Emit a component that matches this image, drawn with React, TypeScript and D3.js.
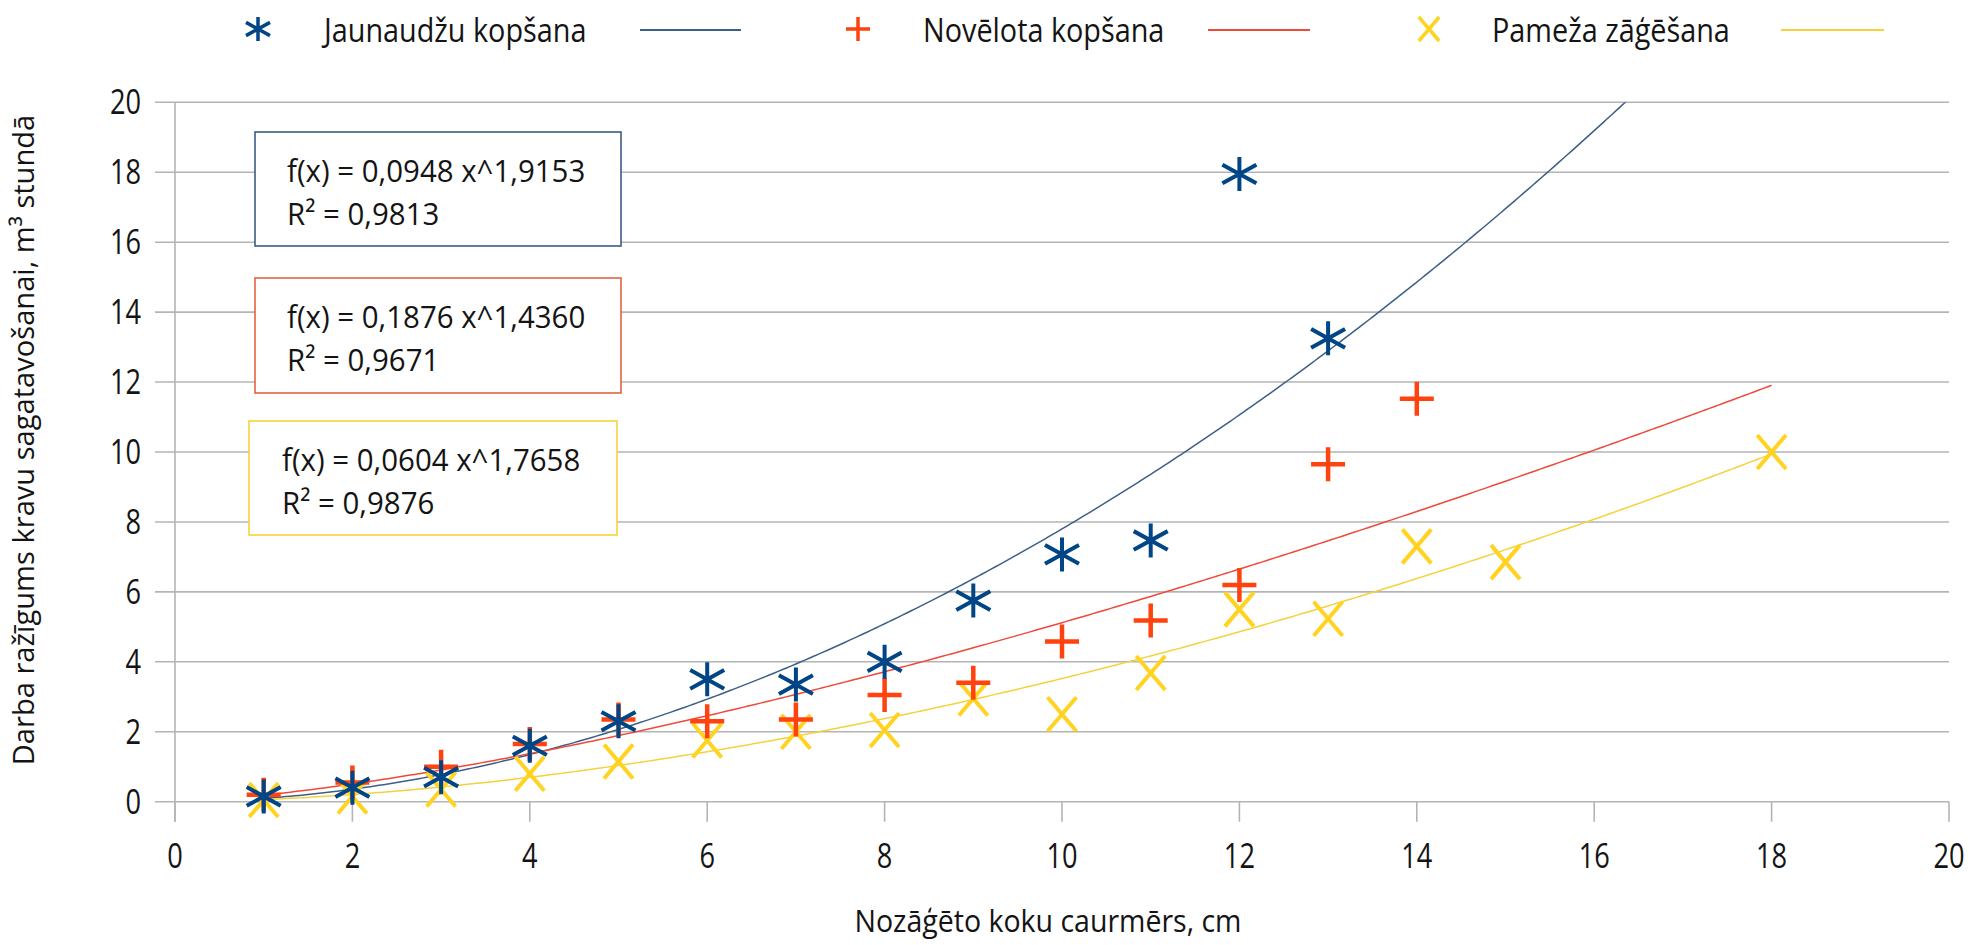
import React from 'react';
import * as d3 from 'd3';

// ---------- data ----------
const seriesNames = ['Jaunaudžu kopšana', 'Novēlota kopšana', 'Pameža zāģēšana'];
const seriesColors = ['#004586', '#ff420e', '#ffd320'];
const trendColors = ['#3d5f86', '#ee4a3a', '#f3d23e'];
const boxColors = ['#3a5c85', '#e2643f', '#f4d43a'];
const markerTypes = ['asterisk', 'plus', 'cross'];

const blueX = [1, 2, 3, 4, 5, 6, 7, 8, 9, 10, 11, 12, 13];
const blueY = [0.15, 0.4, 0.7, 1.6, 2.3, 3.5, 3.35, 4.0, 5.75, 7.07, 7.47, 17.95, 13.25];

const redX = [1, 2, 3, 4, 5, 6, 7, 8, 9, 10, 11, 12, 13, 14];
const redY = [0.2, 0.55, 1.0, 1.65, 2.35, 2.3, 2.35, 3.05, 3.4, 4.58, 5.18, 6.2, 9.65, 11.52];

const yellowX = [1, 2, 3, 4, 5, 6, 7, 8, 9, 10, 11, 12, 13, 14, 15, 18];
const yellowY = [0.05, 0.15, 0.35, 0.8, 1.15, 1.75, 2.0, 2.05, 2.95, 2.5, 3.68, 5.5, 5.23, 7.3, 6.85, 10.0];

const trendA = [0.0948, 0.1876, 0.0604];
const trendB = [1.9153, 1.436, 1.7658];
const equationLabels = ['f(x) = 0,0948 x^1,9153', 'f(x) = 0,1876 x^1,4360', 'f(x) = 0,0604 x^1,7658'];
const r2Labels = ['R² = 0,9813', 'R² = 0,9671', 'R² = 0,9876'];

const xTicks = [0, 2, 4, 6, 8, 10, 12, 14, 16, 18, 20];
const yTicks = [0, 2, 4, 6, 8, 10, 12, 14, 16, 18, 20];
const xTitle = 'Nozāģēto koku caurmērs, cm';
const yTitle = 'Darba ražīgums kravu sagatavošanai, m³ stundā';

// ---------- layout ----------
const W = 1969;
const H = 945;
const FONT = "'Open Sans', 'Noto Sans', sans-serif";
const TEXT = '#141414';
const GRID = '#b4b4b4';

const legendMarkerX = [258, 858, 1429];
const legendTextX = [324, 923, 1492];
const legendLineX = [[640, 741], [1208, 1310], [1781, 1884]];
const boxRects = [
  { x: 255, y: 132, w: 366, h: 114 },
  { x: 255, y: 278, w: 366, h: 115 },
  { x: 249, y: 421, w: 368, h: 114 },
];
const boxTextDX = [32, 32, 33];

function markerPath(type: string, cx: number, cy: number, r: number): string {
  if (type === 'asterisk') {
    const dy = r * 0.55;
    return `M${cx},${cy - r}V${cy + r}M${cx - r},${cy - dy}L${cx + r},${cy + dy}M${cx - r},${cy + dy}L${cx + r},${cy - dy}`;
  }
  if (type === 'plus') {
    return `M${cx - r},${cy}H${cx + r}M${cx},${cy - r}V${cy + r}`;
  }
  const rx = r * 0.85;
  return `M${cx - rx},${cy - r}L${cx + rx},${cy + r}M${cx - rx},${cy + r}L${cx + rx},${cy - r}`;
}

function T(props: {
  x: number; y: number; sx?: number; anchor?: string; size?: number; rotate?: number; children: React.ReactNode;
}) {
  const { x, y, sx = 1, anchor = 'start', size = 30, rotate, children } = props;
  const tr = `translate(${x},${y})${rotate ? ` rotate(${rotate})` : ''} scale(${sx},1)`;
  return (
    <text transform={tr} textAnchor={anchor as any} fontSize={size} fontFamily={FONT} fill={TEXT}>
      {children}
    </text>
  );
}

export default function App() {
  const x = d3.scaleLinear().domain([0, 20]).range([175, 1949]);
  const y = d3.scaleLinear().domain([0, 20]).range([801.7, 102.3]);

  const seriesX = [blueX, redX, yellowX];
  const seriesY = [blueY, redY, yellowY];

  const allX = ([] as number[]).concat(blueX, redX, yellowX);
  const xMin = d3.min(allX) as number;
  const xMax = d3.max(allX) as number;
  const samples = d3.range(xMin, xMax + 1e-9, 0.05);

  const line = d3
    .line<[number, number]>()
    .x((d) => x(d[0]))
    .y((d) => y(d[1]));

  const trendPaths = trendA.map((a, i) =>
    line(samples.map((v) => [v, a * Math.pow(v, trendB[i])] as [number, number])) || ''
  );

  const drawOrder = [2, 1, 0];

  return (
    <svg
      width={W}
      height={H}
      viewBox={`0 0 ${W} ${H}`}
      style={{ position: 'absolute', left: 0, top: 0, display: 'block', background: '#fff' }}
    >
      <defs>
        <clipPath id="plotClip">
          <rect x={x(0)} y={y(20)} width={x(20) - x(0)} height={y(0) - y(20)} />
        </clipPath>
      </defs>
      <rect x={0} y={0} width={W} height={H} fill="#fff" />

      {/* gridlines + y ticks */}
      {yTicks.map((t) => (
        <line key={'g' + t} x1={x(0) - 20} x2={x(20)} y1={y(t)} y2={y(t)} stroke={GRID} strokeWidth={1.6} />
      ))}
      {/* y axis line */}
      <line x1={x(0)} x2={x(0)} y1={y(20)} y2={y(0) + 20} stroke={GRID} strokeWidth={1.6} />
      {/* x ticks */}
      {xTicks.map((t) => (
        <line key={'xt' + t} x1={x(t)} x2={x(t)} y1={y(0)} y2={y(0) + 20} stroke={GRID} strokeWidth={1.6} />
      ))}

      {/* y tick labels */}
      {yTicks.map((t) => (
        <T key={'yl' + t} x={141} y={y(t) + 12} anchor="end" size={34} sx={0.8}>
          {String(t)}
        </T>
      ))}
      {/* x tick labels */}
      {xTicks.map((t) => (
        <T key={'xl' + t} x={x(t)} y={868} anchor="middle" size={34} sx={0.8}>
          {String(t)}
        </T>
      ))}

      {/* trend lines */}
      <g clipPath="url(#plotClip)">
        {trendPaths.map((d, i) => (
          <path key={'tr' + i} d={d} fill="none" stroke={trendColors[i]} strokeWidth={1.5} />
        ))}
      </g>

      {/* markers */}
      {drawOrder.map((si) => (
        <g key={'s' + si}>
          {seriesX[si].map((xv, j) => (
            <path
              key={j}
              d={markerPath(markerTypes[si], x(xv), y(seriesY[si][j]), 17)}
              fill="none"
              stroke={seriesColors[si]}
              strokeWidth={si === 1 ? 4.5 : 4}
            />
          ))}
        </g>
      ))}

      {/* equation boxes */}
      {boxRects.map((b, i) => (
        <g key={'b' + i}>
          <rect x={b.x} y={b.y} width={b.w} height={b.h} fill="#fff" stroke={boxColors[i]} strokeWidth={1.6} />
          <T x={b.x + boxTextDX[i]} y={b.y + 50} size={31} sx={0.95}>
            {equationLabels[i]}
          </T>
          <T x={b.x + boxTextDX[i]} y={b.y + 93} size={31} sx={0.95}>
            {r2Labels[i]}
          </T>
        </g>
      ))}

      {/* legend */}
      {seriesNames.map((name, i) => (
        <g key={'lg' + i}>
          <path
            d={markerPath(markerTypes[i], legendMarkerX[i], 29, 12)}
            fill="none"
            stroke={seriesColors[i]}
            strokeWidth={3.5}
          />
          <T x={legendTextX[i]} y={42} size={32} sx={0.9}>
            {name}
          </T>
          <line
            x1={legendLineX[i][0]}
            x2={legendLineX[i][1]}
            y1={30}
            y2={30}
            stroke={trendColors[i]}
            strokeWidth={2}
          />
        </g>
      ))}

      {/* axis titles */}
      <T x={1048} y={932} anchor="middle" size={31} sx={0.92}>
        {xTitle}
      </T>
      <T x={34} y={440} anchor="middle" size={30} sx={0.97} rotate={-90}>
        {yTitle}
      </T>
    </svg>
  );
}
